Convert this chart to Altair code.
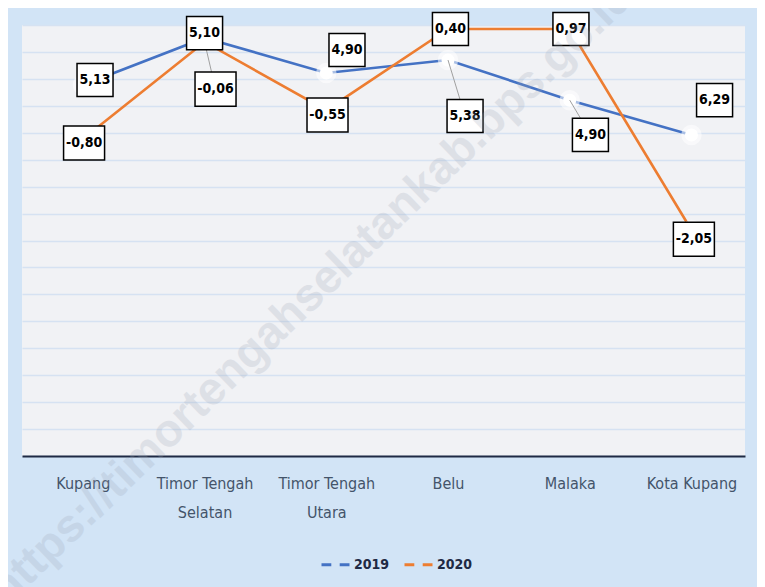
import json
import altair as alt
import pandas as pd

# ---------------- data ----------------
categories = ["Kupang", "Timor Tengah Selatan", "Timor Tengah Utara", "Belu", "Malaka", "Kota Kupang"]
axis_label_lines = [["Kupang"], ["Timor Tengah", "Selatan"], ["Timor Tengah", "Utara"],
                    ["Belu"], ["Malaka"], ["Kota Kupang"]]
series = ["2019", "2020"]
values_2019 = [5.13, 5.10, 4.90, 5.38, 4.90, 6.29]
values_2020 = [-0.80, -0.06, -0.55, 0.40, 0.97, -2.05]
# heights at which the two lines are drawn in the picture, read in gridline units (0 = axis, 16 = top)
level_2019 = [13.77, 15.52, 14.22, 14.70, 13.21, 11.92]
level_2020 = [11.77, 15.37, 12.84, 15.85, 15.85, 8.39]
watermark = "https://timortengahselatankab.bps.go.id"

# ---------------- layout of the data labels (style, not data) ----------------
label_shift_x = {"2019": [0.10, 0.0, 0.17, 0.14, 0.17, 0.19],
                 "2020": [0.01, 0.09, 0.01, 0.02, 0.01, 0.02]}
label_level = {"2019": [13.96, 15.70, 15.07, 12.62, 11.92, 13.21],
               "2020": [11.62, 13.62, 12.66, 15.85, 15.85, 8.05]}
leader = {"2019": [0, 0, 0, 1, 1, 0], "2020": [0, 1, 0, 0, 0, 0]}
colors = ["#4472c4", "#ed7d31"]

rows = []
for s, vals, lev in (("2019", values_2019, level_2019), ("2020", values_2020, level_2020)):
    for i, c in enumerate(categories):
        rows.append({
            "idx": i, "category": c, "series": s, "value": vals[i], "level": lev[i],
            "lx": i + label_shift_x[s][i], "ly": label_level[s][i], "leader": leader[s][i],
            "text": f"{vals[i]:.2f}".replace(".", ","),
        })
df = pd.DataFrame(rows)

FONT = "Liberation Sans Narrow, DejaVu Sans Condensed, sans-serif"

x_scale = alt.Scale(domain=[-0.5, 5.44], nice=False, zero=False)
y_scale = alt.Scale(domain=[0, 16], nice=False, zero=False)

x_axis = alt.Axis(values=list(range(len(categories))),
                  labelExpr=json.dumps(axis_label_lines) + "[datum.value]",
                  grid=False, ticks=False, title=None, domainColor="#1f2a44", domainWidth=2,
                  labelFont=FONT, labelFontSize=16, labelColor="#44546a", labelPadding=19,
                  labelLineHeight=29, labelAngle=0, labelOverlap=False, labelFlush=False)
y_axis = alt.Axis(values=list(range(17)), grid=True, labels=False, ticks=False, domain=False,
                  title=None, gridColor="#d6e2f2", gridWidth=1.5)


def X(field):
    return alt.X(field, scale=x_scale, axis=x_axis, title=None)


def Y(field):
    return alt.Y(field, scale=y_scale, axis=y_axis, title=None)


base = alt.Chart(df)

lines = base.mark_line(strokeWidth=2.6).encode(
    x=X("idx:Q"),
    y=Y("level:Q"),
    color=alt.Color("series:N", scale=alt.Scale(domain=series, range=colors),
                    legend=alt.Legend(orient="none", legendX=298, legendY=524,
                                      direction="horizontal", title=None,
                                      symbolType="M-1,0L-0.3,0M0.3,0L1,0", symbolSize=784,
                                      symbolStrokeWidth=3, labelFont=FONT, labelFontSize=14,
                                      labelFontWeight="bold", labelColor="#1f2a44",
                                      labelOffset=3, columnPadding=8, padding=0)),
    detail="series:N",
)

glow = base.mark_circle(color="white", opacity=0.55, size=420).encode(x=X("idx:Q"), y=Y("level:Q"))
markers = base.mark_circle(color="white", opacity=1, size=170).encode(x=X("idx:Q"), y=Y("level:Q"))

leaders = base.transform_filter("datum.leader == 1").mark_rule(color="#a0a0a0", strokeWidth=1).encode(
    x=X("idx:Q"), y=Y("level:Q"), x2="lx:Q", y2="ly:Q")

box4 = base.transform_filter("length(datum.text) <= 4").mark_point(
    shape="M-1,-0.92L1,-0.92L1,0.92L-1,0.92Z", size=1296, filled=True,
    fill="white", stroke="black", strokeWidth=1.5, opacity=1).encode(x=X("lx:Q"), y=Y("ly:Q"))
box5 = base.transform_filter("length(datum.text) > 4").mark_point(
    shape="M-1,-0.83L1,-0.83L1,0.83L-1,0.83Z", size=1681, filled=True,
    fill="white", stroke="black", strokeWidth=1.5, opacity=1).encode(x=X("lx:Q"), y=Y("ly:Q"))

texts = base.mark_text(font=FONT, fontSize=14, fontWeight="bold", color="black").encode(
    x=X("lx:Q"), y=Y("ly:Q"), text="text:N")

wm = alt.Chart(pd.DataFrame({"w": [watermark]})).mark_text(
    angle=316, fontSize=46, font="Liberation Sans, sans-serif", fontWeight="bold",
    color="#9aa4b6", opacity=0.22).encode(x=alt.value(290), y=alt.value(268), text="w:N")

chart = alt.layer(lines, glow, markers, leaders, box4, box5, texts, wm).properties(
    width=723, height=431,
    padding={"left": 14, "top": 17, "right": 12, "bottom": 131},
    autosize=alt.AutoSizeParams(type="none"),
    background="#d2e4f6",
).configure_view(fill="#f1f2f5", stroke=None)

chart.save("out.html", embed_options={"renderer": "svg", "actions": False})
